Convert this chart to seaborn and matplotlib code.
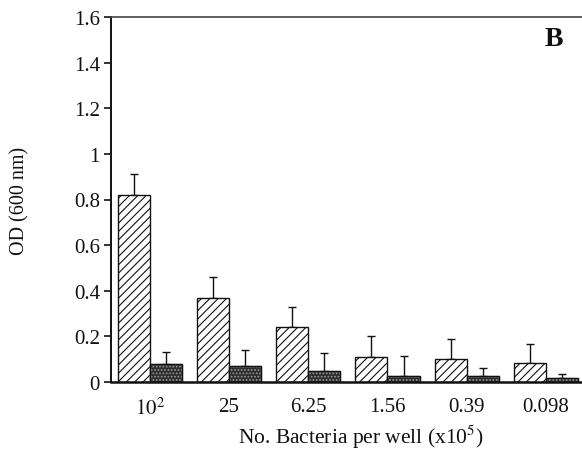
import numpy as np
import pandas as pd
import matplotlib
matplotlib.use("Agg")
import matplotlib.pyplot as plt
import seaborn as sns

# Bacteria per well (x10^5) and OD readings for the two conditions
categories = ["$10^2$", "25", "6.25", "1.56", "0.39", "0.098"]
od_hatched = [0.82, 0.37, 0.24, 0.11, 0.10, 0.085]
sd_hatched = [0.09, 0.09, 0.09, 0.09, 0.087, 0.082]
od_dark = [0.08, 0.07, 0.05, 0.028, 0.025, 0.018]
sd_dark = [0.053, 0.072, 0.075, 0.085, 0.038, 0.017]
groups = ["A", "B"]
y_ticks = [0, 0.2, 0.4, 0.6, 0.8, 1, 1.2, 1.4, 1.6]
y_tick_labels = ["0", "0.2", "0.4", "0.6", "0.8", "1", "1.2", "1.4", "1.6"]

df = pd.DataFrame({
    "dose": categories * 2,
    "od": od_hatched + od_dark,
    "group": [groups[0]] * len(categories) + [groups[1]] * len(categories),
})

sns.set_theme(style="white")
plt.rcParams["font.family"] = ["Liberation Serif", "DejaVu Serif"]
plt.rcParams["mathtext.fontset"] = "stix"
plt.rcParams["hatch.linewidth"] = 0.8

fig = plt.figure(figsize=(5.82, 4.52), dpi=100)
ax = fig.add_axes([111 / 582, 1 - 383 / 452, 1 - 111 / 582 + 0.002, 365 / 452])

sns.barplot(data=df, x="dose", y="od", hue="group", order=categories,
            hue_order=groups, width=0.81, errorbar=None, legend=False,
            palette=["white", "#3a3a3a"], ax=ax, zorder=2)

errs = [sd_hatched, sd_dark]
vals = [od_hatched, od_dark]
for i, (cont, err, val) in enumerate(zip(ax.containers, errs, vals)):
    xs = []
    w = cont.patches[0].get_width()
    for p in cont.patches:
        if i == 0:
            p.set_facecolor("white")
            p.set_edgecolor("#111111")
            p.set_hatch("////")
        else:
            # stippled fill: light dots over a dark ground
            p.set_facecolor("#2e2e2e")
            p.set_edgecolor("#9a9a9a")
            p.set_hatch(".....")
        p.set_linewidth(1.0)
        xs.append(p.get_x() + p.get_width() / 2)
    if i == 1:
        ax.bar(xs, val, width=w, fill=False, edgecolor="#111111",
               linewidth=1.0, zorder=3)
    ax.errorbar(xs, val, yerr=[np.zeros(len(err)), err], fmt="none",
                ecolor="#111111", elinewidth=1.0, capsize=3, capthick=1.0,
                zorder=1)

ax.set_ylim(0, 1.6)
ax.set_xlim(-0.49, 5.47)
ax.set_yticks(y_ticks)
ax.set_yticklabels(y_tick_labels)
ax.tick_params(axis="y", which="major", direction="out", length=5, width=1.2,
               left=True, labelsize=15, pad=3, color="#111111",
               labelcolor="#111111")
ax.tick_params(axis="x", bottom=False, labelsize=15, pad=5,
               labelcolor="#111111")

for side in ["left", "top", "bottom"]:
    ax.spines[side].set_visible(True)
    ax.spines[side].set_color("#111111")
ax.spines["left"].set_linewidth(1.4)
ax.spines["top"].set_linewidth(1.2)
ax.spines["top"].set_color("#444444")
ax.spines["bottom"].set_linewidth(1.8)
ax.spines["right"].set_visible(False)

ax.set_xlabel("No. Bacteria per well (x10$^5$)", fontsize=15.5,
              color="#111111")
ax.set_ylabel("OD (600 nm)", fontsize=14.5, color="#111111")
ax.xaxis.set_label_coords(0.529, -0.11)
ax.yaxis.set_label_coords(-0.172, 0.5)

ax.text(0.938, 0.94, "B", transform=ax.transAxes, fontsize=20,
        fontweight="bold", ha="center", va="center", color="#111111")

fig.savefig("out.png", dpi=100)
